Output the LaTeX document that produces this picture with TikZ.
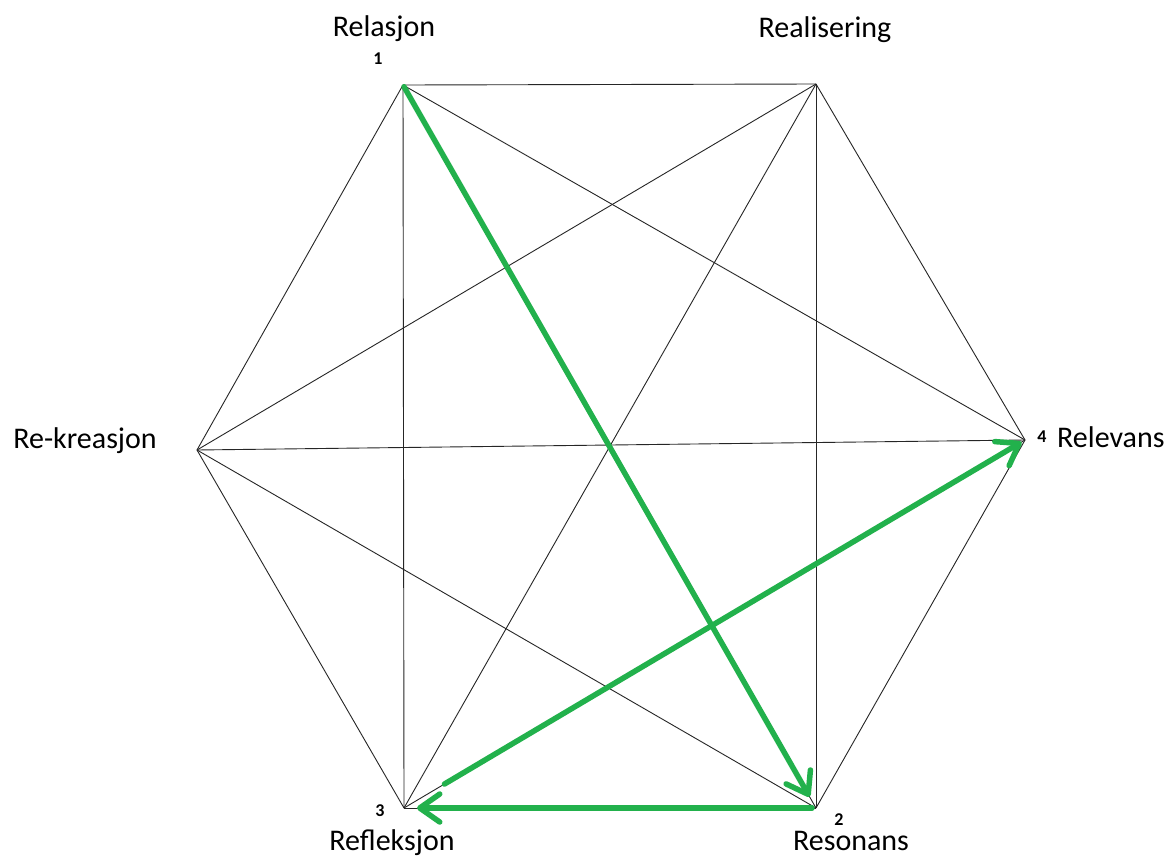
\documentclass[tikz,border=0pt]{standalone}
\usepackage{fontspec}
\setmainfont{Carlito}
\usetikzlibrary{arrows.meta}
\definecolor{paintgreen}{HTML}{22B14C}
\begin{document}
\begin{tikzpicture}[x=1pt,y=-1pt,
  edge/.style={draw=black!85, line width=0.9pt},
  flow/.style={draw=paintgreen, line width=5.5pt, line cap=round,
    -{Straight Barb[length=20pt,width=28pt,line cap=round,line join=round]}},
  lbl/.style={anchor=base, inner sep=0pt, font=\fontsize{30}{36}\selectfont},
  num/.style={anchor=base, inner sep=0pt, font=\fontsize{18}{22}\selectfont\bfseries}]
  \useasboundingbox (0,0) rectangle (1173,857);
  \fill[white] (0,0) rectangle (1173,857);

  % vertices of the hexagon
  \coordinate (v1) at (403,85);   % Relasjon
  \coordinate (v5) at (816,84);   % Realisering
  \coordinate (v4) at (1025,440); % Relevans
  \coordinate (v2) at (816,808);  % Resonans
  \coordinate (v3) at (404,808);  % Refleksjon
  \coordinate (v6) at (197,450);  % Re-kreasjon

  % every pair of vertices joined
  \foreach \a/\b in {v1/v5,v5/v4,v4/v2,v2/v3,v3/v6,v6/v1,
                     v1/v3,v1/v4,v1/v2,v5/v2,v5/v6,v5/v3,
                     v6/v4,v6/v2,v3/v4}
    \draw[edge] (\a) -- (\b);

  % the path 1 -> 2 -> 3 -> 4
  \draw[flow, shorten <=2pt, shorten >=13pt] (v1) -- (v2);
  \draw[flow, shorten <=4pt, shorten >=13pt] (v2) -- (v3);
  \draw[flow, shorten <=47pt, shorten >=4pt] (v3) -- (v4);

  % labels
  \node[lbl] (t1) at (384,36) {Relasjon};
  \node[num] (n1) at (378,64) {1};
  \node[lbl] (t5) at (825,37) {Realisering};
  \node[num] (n4) at (1042,442) {4};
  \node[lbl, anchor=base west] (t4) at (1057,447) {Relevans};
  \node[lbl] (t6) at (85,448) {Re-kreasjon};
  \node[num] (n3) at (380,816) {3};
  \node[lbl] (t3) at (392,850) {Refleksjon};
  \node[num] (n2) at (839,825) {2};
  \node[lbl] (t2) at (851,850) {Resonans};
\end{tikzpicture}
\end{document}
